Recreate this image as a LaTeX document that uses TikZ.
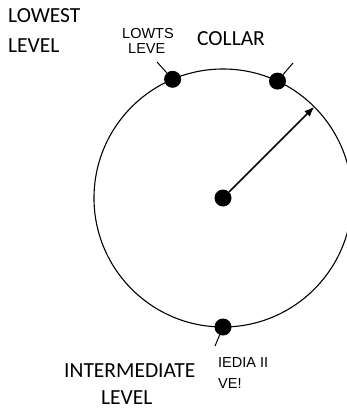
\documentclass[tikz,border=0pt]{standalone}
\usepackage{fontspec}
\setmainfont{Carlito}
\newfontfamily\scanfont{Liberation Sans}
\usetikzlibrary{arrows.meta}

\begin{document}
\begin{tikzpicture}[x=1pt,y=-1pt,
  dot/.style={circle,fill,inner sep=0pt,minimum size=17pt},
  lbl/.style={font=\fontsize{21.5}{25}\selectfont,inner sep=0pt,anchor=base west},
  old/.style={font=\scanfont\fontsize{14.5}{16}\selectfont,inner sep=0pt,anchor=base west}]
  \useasboundingbox (0,0) rectangle (347,410);
  % ring and points on it
  \draw[line width=1.1pt] (223,198) circle[radius=129pt];
  \node[dot] (ctr) at (223,198) {};
  \node[dot] (lo) at (172.6,79.3) {};
  \node[dot] (col) at (277.5,81.1) {};
  \node[dot] (mid) at (223,327) {};
  \coordinate (tip) at (314.2,106.8);
  \draw[line width=1.6pt,-{Latex[length=10pt,width=8pt]}] (ctr) -- (tip);
  % short leaders
  \coordinate (loend) at (157,62);
  \coordinate (colend) at (293,63);
  \coordinate (midend) at (215,346);
  \draw[line width=1pt] (lo) -- (loend);
  \draw[line width=1pt] (col) -- (colend);
  \draw[line width=1pt] (mid) -- (midend);
  % labels
  \node[lbl] (lowA) at (8,22) {LOWEST};
  \node[lbl] (lowB) at (8,52) {LEVEL};
  \node[lbl] (collar) at (197,45) {COLLAR};
  \node[lbl] (intA) at (64,377) {INTERMEDIATE};
  \node[lbl] (intB) at (101,404) {LEVEL};
  \node[old] (oldA) at (122,38) {LOWTS};
  \node[old] (oldB) at (128,53) {LEVE};
  \node[old] (oldC) at (218,367) {IEDIA II};
  \node[old] (oldD) at (218,388) {VE!};
\end{tikzpicture}
\end{document}
